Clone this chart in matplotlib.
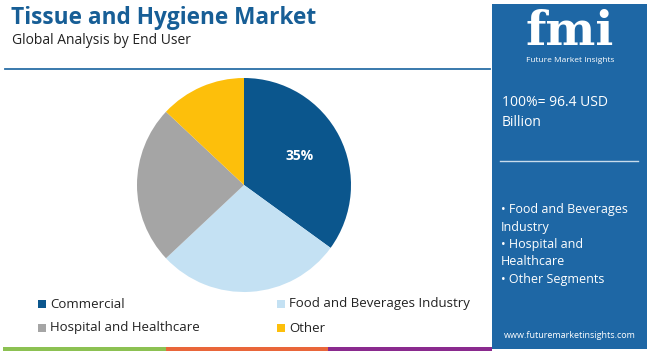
import matplotlib
matplotlib.use("Agg")
import matplotlib.pyplot as plt
from matplotlib.patches import Rectangle

plt.rcParams['font.family'] = ['Open Sans', 'DejaVu Sans']

segments = ["Commercial", "Food and Beverages Industry", "Hospital and Healthcare", "Other"]
shares = [35, 28, 24, 13]
colors = ["#0b568d", "#c4e1f3", "#a5a5a5", "#fdbf0b"]
panel_lines = ["100%= 96.4 USD", "Billion"]
bullets = ["• Food and Beverages", "Industry", "• Hospital and", "Healthcare", "• Other Segments"]

W, H = 650, 351
fig = plt.figure(figsize=(W / 100, H / 100), dpi=100)
fig.patch.set_facecolor("white")

def px(x, y):
    return x / W, 1 - y / H

# title block
fig.text(*px(11, 18), "Tissue and Hygiene Market", fontsize=16.3, fontweight="bold",
         color="#175e96", va="center", ha="left")
fig.text(*px(12, 40), "Global Analysis by End User", fontsize=10, color="#222222",
         va="center", ha="left")
fig.add_artist(plt.Line2D([5 / W, 490 / W], [1 - 69 / H] * 2, color="#2a6ea6", lw=1.3))

# right panel
fig.add_artist(Rectangle(px(492, 349), 155 / W, 345 / H, facecolor="#1e67a5",
                         edgecolor="none", transform=fig.transFigure))
fig.text(*px(570, 32), "fmi", fontsize=34, fontweight="bold", color="white",
         family=["DejaVu Serif"], ha="center", va="center")
fig.text(*px(570, 60), "Future Market Insights", fontsize=6, color="white",
         ha="center", va="center")
for i, t in enumerate(panel_lines):
    fig.text(*px(502, 102 + i * 20), t, fontsize=10, color="white", va="center")
fig.add_artist(plt.Line2D([500 / W, 638 / W], [1 - 161 / H] * 2, color="#c8dcec", lw=1))
for i, t in enumerate(bullets):
    fig.text(*px(501, 210 + i * 17.3), t, fontsize=9, color="white", va="center")
fig.text(*px(570, 335), "www.futuremarketinsights.com", fontsize=6.5, color="white",
         ha="center", va="center")

# bottom color strip
for x0, x1, c in [(3, 166, "#8cc152"), (166, 328, "#e9663a"), (328, 492, "#8a2a8e")]:
    fig.add_artist(Rectangle(px(x0, 351), (x1 - x0) / W, 4 / H, facecolor=c,
                             edgecolor="none", transform=fig.transFigure))

# pie
cx, cy, r = 244, 185, 107
ax = fig.add_axes([(cx - r) / W, (H - cy - r) / H, 2 * r / W, 2 * r / H])
ax.pie(shares, colors=colors, startangle=90, counterclock=False,
       wedgeprops=dict(linewidth=0))
ax.set_xlim(-1, 1)
ax.set_ylim(-1, 1)
ax.set_aspect("equal")
ax.axis("off")
ax.text(0.52, 0.27, f"{shares[0]}%", color="white", fontsize=10, fontweight="bold",
        ha="center", va="center")

# legend
pos = [(38, 304), (277, 304), (38, 328), (277, 328)]
for (x, y), name, c in zip(pos, segments, colors):
    fig.add_artist(Rectangle(px(x, y + 4), 8 / W, 8 / H, facecolor=c, edgecolor="none",
                             transform=fig.transFigure))
    fig.text(*px(x + 12, y), name, fontsize=9.5, color="#222222", va="center")

fig.savefig("out.png", dpi=100)
